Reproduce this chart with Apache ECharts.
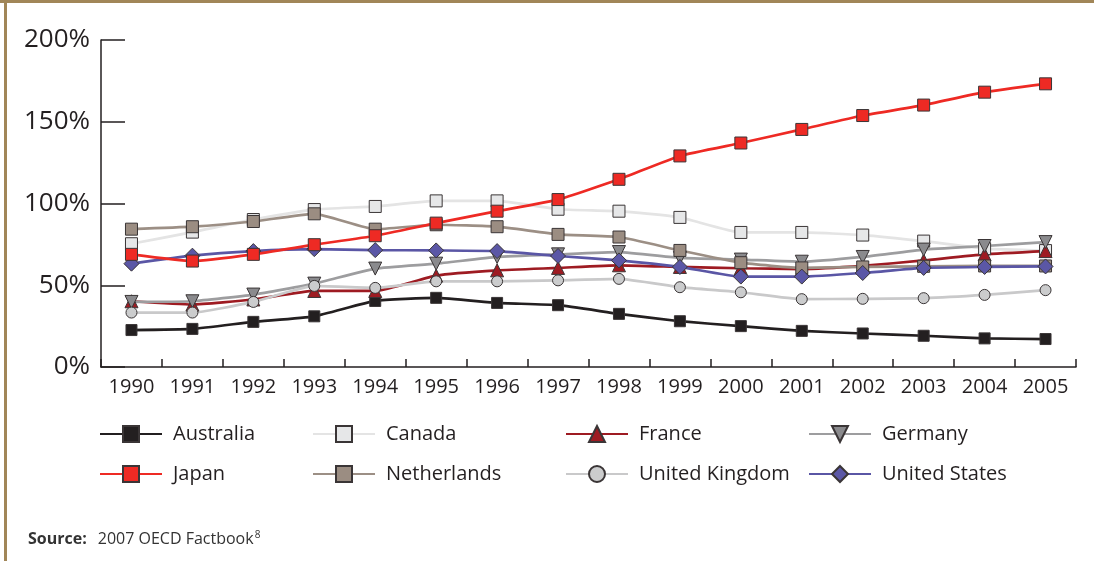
<!DOCTYPE html>
<html>
<head>
<meta charset="utf-8">
<title>Public debt as a share of GDP, 1990–2005</title>
<script src="https://cdn.jsdelivr.net/npm/echarts@6/dist/echarts.min.js"></script>
<style>
  html, body { margin: 0; padding: 0; background: #ffffff; }
  #chart { width: 1094px; height: 561px; }
</style>
</head>
<body>
<div id="chart"></div>
<script>
// Years on the horizontal axis
const years = ['1990','1991','1992','1993','1994','1995','1996','1997','1998','1999','2000','2001','2002','2003','2004','2005'];

// Percent of GDP per country
const australia     = [22.6, 23.3, 27.6, 31.0, 40.4, 42.3, 39.2, 37.8, 32.5, 28.0, 25.0, 22.1, 20.5, 19.1, 17.5, 17.1];
const canada        = [75.4, 82.5, 90.2, 96.3, 98.2, 101.6, 101.6, 96.5, 95.3, 91.5, 82.3, 82.3, 80.7, 77.0, 72.4, 71.2];
const france        = [40.2, 38.2, 41.3, 46.5, 46.5, 55.9, 59.1, 60.6, 62.2, 61.2, 60.4, 59.9, 61.8, 65.2, 68.9, 70.9];
const germany       = [39.8, 40.2, 44.3, 51.0, 60.2, 63.2, 67.3, 68.9, 70.3, 66.7, 65.7, 64.4, 67.3, 71.8, 74.0, 76.4];
const japan         = [68.9, 64.8, 68.9, 74.8, 80.3, 88.0, 95.3, 102.4, 114.8, 129.1, 137.0, 145.3, 153.8, 160.2, 168.1, 173.2];
const netherlands   = [84.3, 85.8, 89.0, 93.7, 84.3, 87.0, 85.8, 81.1, 79.5, 71.3, 63.8, 60.6, 61.2, 61.6, 61.8, 61.8];
const unitedKingdom = [33.3, 33.3, 39.8, 49.6, 48.4, 52.4, 52.4, 53.0, 53.9, 48.8, 45.7, 41.5, 41.7, 42.1, 44.1, 47.0];
const unitedStates  = [63.2, 68.1, 70.9, 72.1, 71.5, 71.3, 70.9, 67.9, 65.2, 61.2, 55.3, 55.3, 57.5, 60.6, 61.2, 61.5];

// Value-axis ticks
const yTicks = [0, 50, 100, 150, 200];

const INK = '#231f20';
const FONT = '"Open Sans", "Noto Sans", sans-serif';

function line(name, data, color, markerFill, symbol, size, extra) {
  return Object.assign({
    name: name,
    type: 'line',
    data: data,
    smooth: 0.15,
    symbol: symbol,
    symbolSize: size,
    lineStyle: { color: color, width: 2.7 },
    itemStyle: { color: markerFill, borderColor: '#3a3536', borderWidth: 1 },
    emphasis: { disabled: true },
    animation: false
  }, extra || {});
}

function legendColumn(names, left) {
  return {
    orient: 'vertical',
    left: left,
    top: 424,
    padding: 0,
    itemWidth: 62,
    itemHeight: 20,
    itemGap: 20,
    selectedMode: false,
    data: names,
    textStyle: {
      fontFamily: FONT,
      fontSize: 20,
      color: INK,
      padding: [0, 0, 0, 6]
    }
  };
}

const chart = echarts.init(document.getElementById('chart'), null, { renderer: 'canvas' });

chart.setOption({
  backgroundColor: '#ffffff',
  animation: false,
  grid: { left: 101, right: 18, top: 40, bottom: 194, containLabel: false },
  xAxis: {
    type: 'category',
    data: years,
    boundaryGap: true,
    axisLine: { lineStyle: { color: INK, width: 1.5 } },
    axisTick: { show: true, inside: true, length: 8, interval: 0, lineStyle: { color: INK, width: 1.5 } },
    axisLabel: { interval: 0, margin: 10, fontFamily: FONT, fontSize: 20, color: INK },
    splitLine: { show: false }
  },
  yAxis: {
    type: 'value',
    min: yTicks[0],
    max: yTicks[yTicks.length - 1],
    interval: yTicks[1] - yTicks[0],
    axisLine: { show: true, lineStyle: { color: INK, width: 1.5 } },
    axisTick: { show: true, inside: true, length: 24, lineStyle: { color: INK, width: 1.5 } },
    axisLabel: { margin: 11, fontFamily: FONT, fontSize: 26, color: INK, formatter: '{value}%' },
    splitLine: { show: false }
  },
  legend: [
    legendColumn(['Australia', 'Japan'], 99),
    legendColumn(['Canada', 'Netherlands'], 312),
    legendColumn(['France', 'United Kingdom'], 565),
    legendColumn(['Germany', 'United States'], 808)
  ],
  series: [
    line('Australia', australia, '#231f20', '#231f20', 'rect', 11),
    line('Canada', canada, '#e4e4e4', '#e6e7e8', 'rect', 12),
    line('France', france, '#9e1b22', '#9e1b22', 'triangle', 13),
    line('Germany', germany, '#9d9d9f', '#8a8a8d', 'triangle', 13, { symbolRotate: 180 }),
    line('United Kingdom', unitedKingdom, '#c9c9ca', '#cbcccd', 'circle', 11),
    line('Netherlands', netherlands, '#9c8f85', '#9b8d82', 'rect', 12),
    line('United States', unitedStates, '#5a56a5', '#5b57a6', 'diamond', 15),
    line('Japan', japan, '#ee2a24', '#ee2a24', 'rect', 12)
  ],
  graphic: [
    // decorative frame: top and left rules
    { type: 'rect', left: 0, top: 0, shape: { width: 1094, height: 3 }, style: { fill: '#a18658' }, silent: true },
    { type: 'rect', left: 4, top: 0, shape: { width: 3, height: 561 }, style: { fill: '#a18658' }, silent: true },
    {
      type: 'text',
      left: 28,
      top: 530,
      silent: true,
      style: {
        text: '{b|Source:}{r|2007 OECD Factbook}{sup|8}',
        fontFamily: FONT,
        fontSize: 16,
        fill: '#333333',
        rich: {
          b: { fontFamily: FONT, fontSize: 16, fontWeight: 'bold', fill: '#333333' },
          r: { fontFamily: FONT, fontSize: 16, fill: '#333333', padding: [0, 0, 0, 11] },
          sup: { fontFamily: FONT, fontSize: 10, fill: '#333333', verticalAlign: 'top', padding: [0, 0, 8, 1] }
        }
      }
    }
  ]
});
</script>
</body>
</html>
